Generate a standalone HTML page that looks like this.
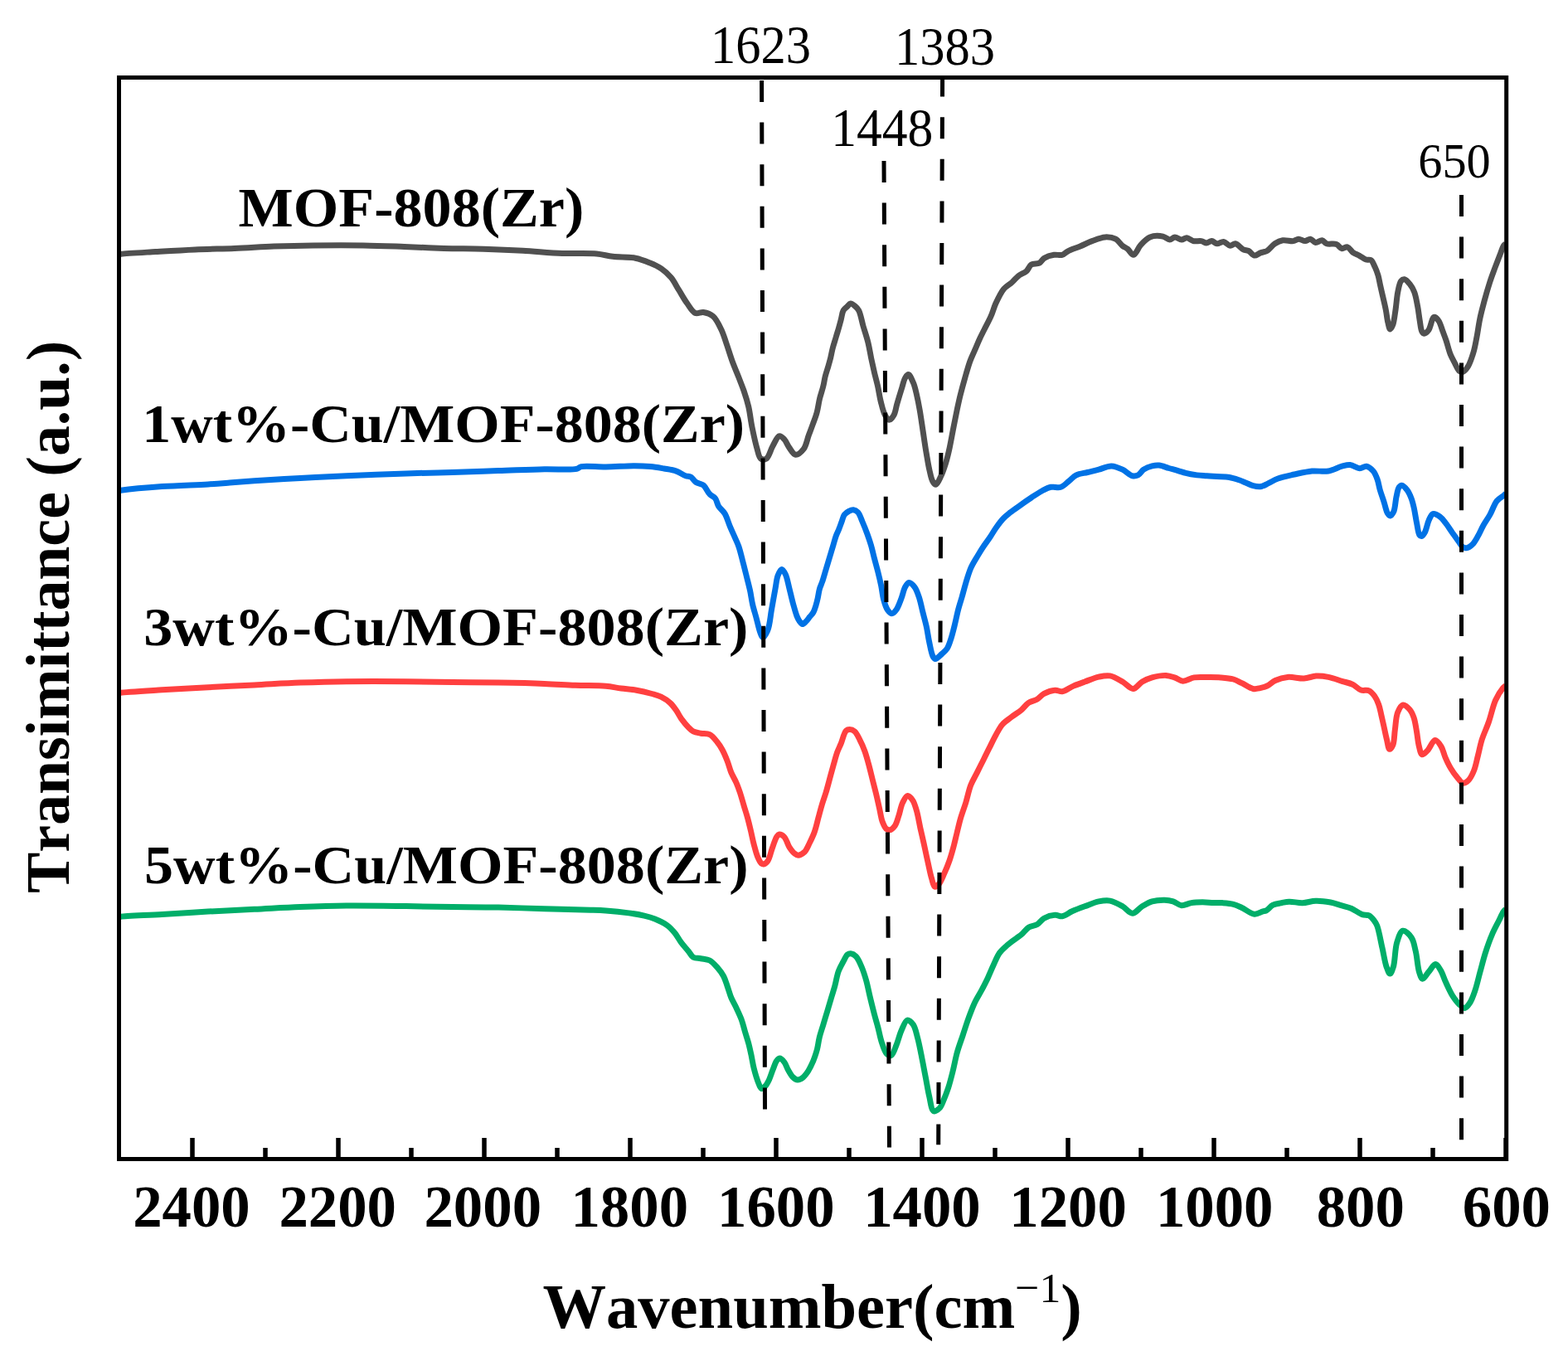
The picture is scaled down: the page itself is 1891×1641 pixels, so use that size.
<!DOCTYPE html>
<html><head><meta charset="utf-8"><title>FTIR spectra</title>
<style>
html,body{margin:0;padding:0;background:#fff;overflow:hidden;}
svg{display:block;}
text{font-family:"Liberation Serif","Times New Roman",serif;fill:#000;font-kerning:none;}
.b{font-weight:bold;}
.tk{font-weight:bold;font-size:68px;}
.pk{font-size:62px;}
.ser{font-weight:bold;font-size:68px;}
</style></head>
<body>
<svg width="1891" height="1641" viewBox="0 0 1891 1641">
<rect width="1891" height="1641" fill="#fff"/>
<path d="M144.0,306.5 C144.8,306.4 145.1,306.3 146.3,306.2 C151.6,305.7 173.3,304.4 187.6,303.5 C202.9,302.6 219.3,301.6 235.2,300.9 C251.1,300.2 266.9,300.0 282.8,299.4 C298.7,298.8 314.5,297.7 330.4,297.1 C346.3,296.5 361.2,296.1 378.0,295.9 C396.9,295.7 419.2,295.6 438.3,295.9 C455.6,296.2 471.3,296.9 487.6,297.5 C503.6,298.1 519.3,298.9 535.2,299.4 C551.1,299.9 566.9,299.8 582.8,300.3 C598.7,300.8 614.5,301.4 630.4,302.2 C646.3,303.1 662.7,304.8 678.0,305.4 C692.3,306.0 708.3,305.0 719.5,306.0 C727.2,306.7 731.9,308.5 739.0,309.3 C747.3,310.3 758.3,309.6 766.3,311.2 C772.9,312.5 778.5,314.8 783.9,317.0 C788.8,319.0 793.3,321.0 797.5,323.9 C801.8,326.8 805.7,330.4 809.2,334.6 C813.0,339.1 815.7,345.0 819.0,350.2 C822.2,355.4 825.3,361.1 828.7,365.8 C831.8,370.1 834.8,376.0 838.5,377.5 C841.5,378.7 844.9,376.0 848.2,376.5 C852.0,377.1 856.6,378.5 860.0,381.4 C864.0,384.8 867.1,391.7 869.7,397.0 C872.2,402.1 873.5,406.9 875.5,412.6 C878.0,419.6 880.6,428.6 883.3,436.0 C885.8,442.8 888.7,449.4 891.1,455.5 C893.2,461.0 895.1,465.5 897.0,471.0 C899.1,477.1 901.2,483.7 902.8,490.6 C904.5,498.0 905.2,506.1 906.8,514.0 C908.5,522.3 910.5,532.3 912.6,539.4 C914.2,544.7 914.9,551.2 917.5,553.0 C919.3,554.3 922.3,554.2 924.3,553.0 C927.5,551.0 929.3,542.2 932.1,537.5 C934.6,533.2 937.2,526.3 939.9,525.8 C941.8,525.4 944.0,527.8 945.8,529.7 C948.0,532.0 949.4,536.3 951.6,539.4 C953.9,542.5 956.5,547.8 959.4,548.2 C962.3,548.6 966.6,544.7 969.2,541.4 C972.3,537.3 973.4,529.8 975.4,524.5 C977.1,519.9 978.7,515.9 980.3,511.4 C982.0,506.7 983.9,502.1 985.2,497.1 C986.6,491.9 987.2,486.1 988.5,480.7 C989.8,475.5 991.8,470.0 992.9,465.3 C993.9,461.3 994.2,458.1 995.1,454.3 C996.1,450.1 997.8,445.3 999.0,441.2 C1000.0,437.7 1000.8,434.8 1001.7,431.3 C1002.6,427.5 1003.3,423.3 1004.4,419.2 C1005.5,414.9 1007.1,410.3 1008.3,406.1 C1009.4,402.3 1010.6,398.7 1011.6,395.1 C1012.6,391.7 1013.4,388.6 1014.3,385.2 C1015.2,381.7 1015.6,377.0 1017.1,374.3 C1018.2,372.3 1020.0,371.3 1021.5,369.9 C1022.9,368.5 1024.2,366.2 1025.8,366.0 C1027.5,365.8 1029.7,367.9 1031.3,369.3 C1033.0,370.7 1034.4,371.9 1035.7,374.3 C1037.9,378.4 1039.2,386.8 1041.0,393.1 C1042.9,399.5 1045.2,406.1 1046.8,412.6 C1048.4,419.1 1049.4,425.8 1050.7,432.1 C1052.0,438.1 1053.3,444.0 1054.6,449.7 C1055.9,455.1 1057.3,459.8 1058.5,465.3 C1059.9,471.4 1060.8,478.7 1062.4,484.8 C1063.8,490.3 1065.2,496.6 1067.3,500.4 C1068.7,503.0 1070.5,506.2 1072.2,506.3 C1074.0,506.4 1076.5,503.0 1078.0,500.4 C1080.0,497.0 1080.4,491.7 1081.9,486.7 C1083.6,480.8 1086.0,472.9 1087.8,467.2 C1089.2,462.8 1090.0,458.2 1091.7,455.5 C1092.8,453.7 1094.3,451.4 1095.6,451.6 C1097.5,451.8 1099.8,457.8 1101.4,461.4 C1103.2,465.5 1104.1,470.0 1105.3,475.0 C1106.7,480.9 1108.0,487.6 1109.2,494.5 C1110.6,502.4 1111.8,511.4 1113.1,519.9 C1114.4,528.4 1115.6,537.2 1117.0,545.3 C1118.3,552.7 1119.4,560.4 1120.9,566.7 C1122.1,571.8 1123.0,577.4 1124.8,580.4 C1125.9,582.3 1127.4,584.5 1128.7,584.3 C1130.6,584.1 1132.8,578.2 1134.6,574.5 C1136.8,570.0 1138.7,564.4 1140.4,558.9 C1142.3,552.8 1143.8,546.4 1145.3,539.4 C1147.0,531.5 1148.6,521.9 1150.2,514.0 C1151.6,507.1 1152.8,500.8 1154.1,494.5 C1155.4,488.5 1156.5,483.1 1158.0,477.0 C1159.7,470.2 1161.8,462.5 1163.8,455.5 C1165.7,448.8 1167.6,441.9 1169.7,436.0 C1171.5,431.0 1173.6,426.9 1175.5,422.4 C1177.5,417.8 1179.4,413.1 1181.4,408.7 C1183.3,404.6 1185.1,401.2 1187.2,397.0 C1189.6,392.2 1192.7,386.7 1195.0,381.4 C1197.3,376.3 1198.5,371.1 1200.9,365.8 C1203.6,360.0 1207.0,352.7 1210.7,348.3 C1213.6,344.8 1217.4,343.2 1220.4,340.5 C1223.2,338.0 1225.3,335.0 1228.2,332.7 C1231.2,330.4 1235.3,329.2 1238.0,326.8 C1240.5,324.6 1241.2,320.6 1243.8,319.0 C1246.4,317.4 1250.9,318.5 1253.6,317.1 C1256.0,315.8 1256.9,312.8 1259.4,311.2 C1262.5,309.3 1267.3,307.9 1271.1,307.3 C1274.5,306.8 1278.0,308.1 1280.9,307.3 C1283.6,306.5 1285.1,304.3 1288.0,302.8 C1291.9,300.8 1297.9,299.0 1302.7,297.0 C1307.5,295.0 1312.1,292.4 1317.0,290.6 C1322.1,288.7 1327.8,286.2 1332.8,285.9 C1337.2,285.7 1342.0,286.4 1345.5,288.2 C1348.8,289.9 1350.9,294.1 1353.5,296.2 C1355.6,297.9 1357.7,298.5 1359.8,300.1 C1362.2,302.0 1364.6,307.5 1367.0,307.3 C1369.9,307.1 1372.4,299.0 1375.7,295.4 C1379.0,291.8 1382.4,287.6 1386.8,285.9 C1391.3,284.1 1398.3,284.2 1402.6,285.1 C1405.8,285.8 1408.1,289.0 1410.6,289.0 C1412.8,289.0 1414.7,286.0 1416.9,285.9 C1419.4,285.8 1422.4,289.0 1424.9,289.0 C1427.1,289.0 1429.0,286.6 1431.2,286.7 C1433.7,286.8 1436.3,289.9 1439.1,290.6 C1442.1,291.3 1445.9,290.1 1448.7,290.6 C1451.1,291.0 1452.9,293.0 1455.0,293.0 C1457.1,293.0 1459.2,290.5 1461.3,290.6 C1463.4,290.7 1465.4,293.6 1467.7,293.8 C1470.2,294.0 1473.0,291.1 1475.6,291.4 C1478.3,291.7 1481.0,296.0 1483.6,296.2 C1485.8,296.4 1487.7,293.5 1489.9,293.8 C1492.8,294.2 1496.4,299.5 1499.4,300.9 C1501.6,302.0 1503.7,301.5 1505.8,302.5 C1508.2,303.7 1510.4,307.8 1512.9,308.1 C1515.2,308.4 1517.5,305.8 1520.0,304.9 C1522.6,303.9 1525.4,304.0 1528.0,302.5 C1531.2,300.7 1534.1,296.0 1537.5,293.8 C1540.5,291.9 1543.5,290.4 1547.0,289.8 C1550.9,289.1 1556.2,291.1 1559.7,290.6 C1562.2,290.2 1563.8,288.3 1566.0,288.2 C1568.5,288.1 1571.5,290.7 1574.0,290.6 C1576.2,290.5 1578.3,288.0 1580.3,288.2 C1582.5,288.5 1584.3,292.2 1586.6,292.5 C1589.0,292.8 1592.2,289.4 1594.5,289.8 C1596.5,290.1 1597.5,293.0 1599.8,293.8 C1602.9,294.9 1608.5,293.3 1611.7,294.5 C1614.4,295.5 1616.0,299.2 1618.3,299.7 C1620.4,300.1 1622.9,297.3 1625.0,297.8 C1627.4,298.4 1629.1,302.6 1631.6,304.4 C1634.0,306.1 1636.9,306.9 1639.5,308.3 C1642.2,309.7 1644.9,312.2 1647.4,313.0 C1649.5,313.7 1651.7,312.5 1653.4,313.6 C1655.5,314.9 1656.6,318.7 1658.0,321.6 C1659.5,324.8 1660.9,328.4 1662.0,332.1 C1663.1,335.9 1663.7,340.0 1664.6,344.0 C1665.5,348.0 1666.3,351.6 1667.3,355.9 C1668.5,361.1 1670.1,367.5 1671.2,373.1 C1672.3,378.5 1672.8,384.7 1673.9,389.0 C1674.7,392.1 1675.4,396.8 1676.5,396.9 C1677.4,397.0 1678.9,394.0 1679.8,391.6 C1681.4,387.4 1682.1,379.5 1683.1,373.1 C1684.1,366.3 1684.5,358.2 1685.8,352.0 C1686.8,347.0 1687.7,341.0 1689.7,338.7 C1690.8,337.4 1692.3,336.6 1693.7,336.8 C1695.7,337.1 1698.4,340.3 1700.3,342.7 C1702.4,345.3 1704.2,348.3 1705.6,352.0 C1707.5,356.7 1708.5,363.5 1709.6,369.2 C1710.7,374.9 1711.3,381.0 1712.2,386.3 C1713.0,391.0 1713.4,397.0 1714.8,399.6 C1715.5,401.0 1716.4,402.1 1717.5,402.2 C1718.9,402.3 1721.2,400.3 1722.8,398.2 C1725.4,394.9 1726.8,383.1 1729.4,382.4 C1731.0,382.0 1733.2,384.3 1734.7,386.3 C1737.0,389.2 1738.4,395.4 1740.0,399.6 C1741.4,403.3 1742.6,406.1 1743.9,410.1 C1745.6,415.1 1747.2,422.3 1749.2,427.3 C1750.8,431.3 1752.7,434.5 1754.5,437.9 C1756.2,441.1 1757.8,445.6 1759.8,447.2 C1761.0,448.2 1762.4,448.8 1763.8,448.5 C1765.9,448.0 1768.5,444.9 1770.4,441.9 C1773.1,437.7 1775.2,430.6 1777.0,424.7 C1778.8,418.7 1779.7,412.7 1781.0,406.2 C1782.4,399.1 1783.3,391.1 1784.9,383.7 C1786.4,376.5 1788.3,369.7 1790.2,362.5 C1792.2,355.1 1794.5,347.1 1796.8,340.0 C1798.9,333.5 1801.2,327.6 1803.4,321.6 C1805.6,315.8 1808.2,309.0 1810.0,304.4 C1811.3,301.2 1812.1,298.3 1813.3,296.4 C1814.1,295.1 1815.1,294.5 1816.0,293.5" fill="none" stroke="#505050" stroke-width="7" stroke-linejoin="round" stroke-linecap="butt"/>
<path d="M144.0,591.6 C144.5,591.5 144.7,591.4 145.6,591.3 C150.6,590.6 178.4,587.8 195.5,586.6 C213.5,585.3 236.0,584.8 251.0,583.9 C261.3,583.3 268.1,582.7 277.0,582.0 C286.5,581.3 295.2,580.6 306.6,579.8 C322.2,578.8 343.6,577.5 362.1,576.5 C380.6,575.5 397.9,574.6 417.6,573.7 C440.1,572.7 467.3,571.6 489.8,570.9 C509.6,570.3 527.0,570.0 545.5,569.4 C564.0,568.9 582.5,568.2 601.0,567.6 C619.5,567.0 639.7,566.1 656.6,565.7 C670.7,565.4 688.4,567.1 695.4,565.4 C698.2,564.7 698.3,563.2 701.0,562.6 C706.9,561.3 720.3,563.1 730.6,563.0 C741.8,562.9 755.9,561.6 765.8,561.7 C773.0,561.7 778.3,562.0 784.3,562.6 C790.0,563.1 795.5,564.1 800.9,565.0 C806.0,565.9 811.2,566.5 815.7,568.1 C819.8,569.5 823.6,572.6 826.8,573.7 C829.1,574.5 831.1,573.9 833.0,575.0 C835.3,576.3 837.0,579.8 839.5,581.5 C842.1,583.2 845.7,583.1 848.3,585.1 C851.3,587.5 853.2,593.0 855.9,595.8 C858.1,598.1 860.9,598.8 862.7,601.1 C864.6,603.6 864.8,607.4 866.6,610.3 C868.6,613.5 872.0,615.8 874.2,619.4 C876.7,623.7 878.2,629.7 880.3,634.6 C882.3,639.3 884.5,644.0 886.4,648.3 C888.0,652.1 889.5,655.0 890.9,659.0 C892.6,663.9 894.0,670.1 895.5,675.8 C897.1,681.7 898.6,687.9 900.1,694.0 C901.6,700.1 903.3,706.3 904.6,712.3 C905.8,718.0 906.4,723.5 907.7,729.1 C909.0,734.7 910.8,740.2 912.3,745.8 C913.8,751.4 915.2,758.4 916.8,762.6 C917.8,765.2 918.6,768.6 919.9,768.7 C921.5,768.8 924.4,763.5 926.0,759.5 C928.4,753.5 929.0,743.4 930.5,735.2 C932.0,726.7 933.7,716.8 935.1,709.3 C936.2,703.5 936.5,698.1 938.1,694.0 C939.3,690.9 941.1,686.5 942.7,686.4 C944.2,686.3 946.0,689.8 947.3,692.5 C949.3,696.6 950.4,703.6 951.9,709.3 C953.4,715.3 954.8,721.8 956.4,727.6 C957.9,732.9 959.4,738.9 961.0,742.8 C962.1,745.5 963.1,747.6 964.4,749.3 C965.4,750.7 966.5,752.5 967.7,752.6 C969.0,752.7 970.7,750.6 972.1,749.3 C973.7,747.8 975.0,745.6 976.5,743.8 C978.0,742.0 979.7,740.5 980.9,738.3 C982.3,735.8 983.2,732.5 984.1,729.5 C985.0,726.6 985.6,723.8 986.3,720.7 C987.1,717.2 987.5,713.1 988.5,709.7 C989.4,706.6 990.8,704.1 991.8,701.0 C993.0,697.6 994.0,693.7 995.1,690.0 C996.2,686.3 997.3,682.7 998.4,679.0 C999.5,675.3 1000.6,671.7 1001.7,668.0 C1002.8,664.3 1003.9,660.7 1005.0,657.0 C1006.1,653.3 1007.1,649.3 1008.3,646.0 C1009.3,643.2 1010.5,641.0 1011.6,638.4 C1012.7,635.6 1013.8,632.5 1014.9,629.6 C1016.0,626.7 1016.6,623.1 1018.2,620.8 C1019.6,618.8 1021.8,617.4 1023.7,616.4 C1025.4,615.5 1027.4,614.6 1029.2,614.8 C1031.0,615.0 1033.0,616.0 1034.6,617.6 C1036.8,619.9 1038.1,624.5 1039.8,628.5 C1041.8,633.1 1044.1,638.8 1045.9,643.8 C1047.6,648.5 1049.1,652.8 1050.5,657.5 C1051.9,662.4 1053.0,667.5 1054.3,672.7 C1055.7,678.2 1057.4,683.9 1058.8,689.5 C1060.2,695.1 1061.5,700.6 1062.7,706.2 C1063.8,711.8 1064.3,717.9 1065.7,723.0 C1066.9,727.5 1068.3,732.3 1070.3,735.2 C1071.8,737.3 1073.8,739.7 1075.6,739.7 C1077.4,739.7 1079.3,737.4 1080.9,735.2 C1083.3,732.0 1085.2,726.1 1087.0,721.5 C1088.8,717.0 1089.7,711.2 1091.6,707.8 C1092.9,705.4 1094.4,702.6 1096.2,702.4 C1098.2,702.2 1101.1,705.3 1103.0,707.8 C1105.3,710.8 1106.8,715.4 1108.3,719.9 C1110.1,725.3 1111.4,732.1 1112.9,738.2 C1114.4,744.3 1116.2,750.5 1117.5,756.5 C1118.7,762.2 1119.3,767.6 1120.5,773.3 C1121.8,779.3 1123.2,788.1 1125.1,791.5 C1126.0,793.1 1126.8,794.5 1128.1,794.6 C1130.0,794.7 1133.4,790.6 1135.8,788.5 C1138.0,786.5 1140.2,784.9 1141.9,782.4 C1143.9,779.5 1145.0,775.7 1146.4,771.7 C1148.1,766.8 1149.5,760.8 1151.0,755.0 C1152.6,748.7 1154.0,741.4 1155.6,735.2 C1157.0,729.7 1158.6,725.1 1160.1,719.9 C1161.6,714.5 1163.0,708.9 1164.7,703.2 C1166.5,697.2 1168.4,690.5 1170.8,684.9 C1173.0,679.9 1175.8,675.6 1178.4,671.2 C1180.9,667.0 1183.4,662.9 1186.0,659.0 C1188.5,655.3 1191.1,652.0 1193.6,648.3 C1196.2,644.4 1198.5,640.1 1201.3,636.2 C1204.1,632.2 1207.3,627.9 1210.4,624.7 C1213.0,622.0 1215.5,620.2 1218.5,617.8 C1222.0,615.0 1226.2,612.2 1230.3,609.3 C1234.6,606.2 1239.3,603.0 1243.8,600.0 C1248.3,597.1 1253.1,593.7 1257.4,591.5 C1260.9,589.7 1263.9,588.0 1267.5,587.3 C1271.2,586.6 1275.8,588.5 1279.4,587.3 C1283.1,586.1 1286.3,582.2 1289.5,579.7 C1292.5,577.4 1294.6,574.6 1298.0,572.9 C1301.8,571.0 1307.0,570.6 1311.5,569.5 C1316.0,568.4 1320.5,567.4 1325.1,566.2 C1330.0,564.9 1335.4,561.8 1340.3,561.9 C1344.9,562.0 1349.6,564.2 1353.8,566.2 C1358.0,568.2 1362.2,573.0 1365.7,573.8 C1368.2,574.3 1370.4,573.9 1372.5,572.9 C1375.0,571.7 1376.5,568.0 1379.2,566.2 C1382.1,564.3 1386.1,562.7 1389.4,561.9 C1392.3,561.2 1394.8,560.8 1397.8,561.1 C1401.5,561.4 1405.7,563.4 1409.7,564.5 C1413.6,565.6 1417.9,566.7 1421.5,567.8 C1424.6,568.7 1426.8,569.6 1430.0,570.4 C1434.0,571.4 1439.1,572.3 1443.5,572.9 C1447.6,573.4 1451.4,573.5 1455.4,573.8 C1459.3,574.1 1463.0,574.3 1467.2,574.6 C1472.0,574.9 1477.8,574.7 1482.5,575.5 C1486.7,576.2 1490.7,577.6 1494.3,578.8 C1497.4,579.8 1500.0,581.1 1502.8,582.2 C1505.6,583.3 1508.2,584.9 1511.2,585.6 C1514.4,586.4 1518.2,587.0 1521.4,586.5 C1524.4,586.0 1526.8,584.1 1529.8,582.7 C1533.3,581.0 1536.9,578.6 1541.3,577.0 C1546.9,574.9 1554.3,573.5 1561.0,572.0 C1567.9,570.5 1575.3,568.7 1582.3,568.0 C1589.0,567.4 1595.8,569.1 1602.0,568.0 C1607.8,567.0 1613.6,563.4 1618.4,562.2 C1622.0,561.3 1624.8,560.3 1628.2,560.6 C1631.9,560.9 1636.2,564.6 1639.7,564.7 C1642.7,564.8 1645.3,561.8 1647.9,562.2 C1650.8,562.7 1653.9,565.5 1656.1,568.0 C1658.4,570.6 1659.7,574.2 1661.0,577.8 C1662.5,581.8 1663.0,586.4 1664.3,590.9 C1665.7,595.7 1667.7,600.9 1669.2,605.7 C1670.6,610.2 1671.6,616.0 1673.3,618.8 C1674.3,620.4 1675.5,622.1 1676.6,622.0 C1677.9,621.9 1679.6,619.4 1680.7,617.1 C1682.6,613.1 1682.8,604.4 1684.0,599.1 C1685.0,594.8 1685.6,589.9 1687.2,587.6 C1688.1,586.3 1689.2,585.1 1690.5,585.2 C1692.3,585.3 1695.2,588.5 1697.0,590.9 C1699.1,593.6 1700.6,597.2 1702.0,600.7 C1703.4,604.3 1704.2,607.9 1705.2,612.2 C1706.4,617.5 1707.3,624.5 1708.5,630.2 C1709.6,635.4 1710.2,642.7 1711.8,645.0 C1712.5,646.0 1713.4,646.7 1714.3,646.6 C1715.6,646.4 1717.2,643.9 1718.4,641.7 C1720.3,638.2 1721.4,631.0 1723.3,627.0 C1724.8,624.0 1726.0,620.3 1728.2,619.6 C1730.4,618.9 1734.0,621.2 1736.4,622.9 C1739.0,624.7 1740.8,627.4 1743.0,630.2 C1745.7,633.5 1748.4,637.9 1751.1,641.7 C1753.8,645.5 1756.9,649.9 1759.3,653.2 C1761.2,655.7 1762.4,658.6 1764.3,659.8 C1765.8,660.7 1767.5,660.9 1769.2,660.6 C1771.3,660.2 1773.7,658.4 1775.7,656.5 C1778.2,654.1 1780.2,650.2 1782.3,646.6 C1784.6,642.6 1786.5,637.8 1788.9,633.5 C1791.4,629.1 1794.4,625.1 1797.0,620.4 C1799.8,615.3 1802.0,608.0 1805.2,604.0 C1807.6,601.0 1811.5,599.2 1813.4,597.5 C1814.5,596.5 1815.1,595.8 1816.0,595.0" fill="none" stroke="#0072e5" stroke-width="7" stroke-linejoin="round" stroke-linecap="butt"/>
<path d="M144.0,835.5 C144.5,835.4 144.7,835.3 145.6,835.2 C150.6,834.6 178.4,832.9 195.5,831.8 C213.5,830.7 232.5,829.7 251.0,828.7 C269.5,827.7 288.1,826.8 306.6,825.9 C325.1,825.0 343.6,823.8 362.1,823.1 C380.6,822.4 397.9,821.9 417.6,821.7 C440.1,821.4 467.3,821.5 489.8,821.7 C509.6,821.9 526.9,822.4 545.5,822.6 C564.0,822.8 582.5,822.8 601.0,823.1 C619.5,823.4 640.0,823.8 656.6,824.4 C670.2,824.9 681.3,825.8 693.6,826.3 C705.9,826.8 720.4,826.3 730.6,827.2 C737.8,827.8 742.9,829.2 749.1,830.0 C755.3,830.8 761.5,831.1 767.6,832.2 C773.8,833.3 780.7,835.0 786.1,836.5 C790.3,837.7 793.6,838.4 797.2,840.2 C801.0,842.1 805.2,844.7 808.3,847.6 C811.3,850.3 813.5,853.6 815.7,856.8 C817.8,859.8 819.1,862.9 821.3,866.1 C823.9,869.7 827.7,874.4 830.5,877.2 C832.5,879.2 833.9,880.8 836.1,881.9 C838.6,883.2 842.0,883.6 845.2,884.2 C848.6,884.9 852.7,884.1 855.9,885.7 C859.4,887.4 862.4,891.6 865.0,894.8 C867.4,897.7 869.2,900.5 871.1,904.0 C873.3,908.0 875.4,913.1 877.2,917.7 C879.0,922.2 880.0,927.0 881.8,931.4 C883.6,935.6 886.1,939.5 887.9,943.6 C889.7,947.6 891.0,951.5 892.5,955.8 C894.1,960.6 895.5,965.9 897.0,971.0 C898.5,976.1 900.2,981.1 901.6,986.2 C903.0,991.3 904.2,996.3 905.4,1001.5 C906.7,1006.9 907.8,1012.8 909.2,1018.2 C910.6,1023.4 912.0,1029.3 913.8,1033.4 C915.1,1036.5 916.7,1039.9 918.3,1041.1 C919.3,1041.8 920.3,1042.1 921.4,1041.8 C922.9,1041.5 924.6,1040.0 926.0,1038.0 C928.2,1034.8 929.5,1027.7 931.3,1022.8 C933.0,1018.1 934.8,1011.9 936.6,1009.1 C937.6,1007.6 938.4,1006.2 939.7,1006.0 C941.3,1005.7 944.0,1007.3 945.8,1009.1 C948.3,1011.6 949.7,1017.8 951.9,1021.3 C953.8,1024.2 955.9,1027.2 958.0,1028.9 C959.5,1030.1 960.8,1031.2 962.5,1031.2 C964.7,1031.2 967.9,1029.4 970.1,1027.4 C972.7,1024.9 974.3,1020.5 976.2,1016.7 C978.3,1012.5 980.6,1007.9 982.3,1003.0 C984.2,997.8 985.4,991.8 986.9,986.2 C988.4,980.6 989.9,974.8 991.5,969.5 C993.0,964.7 994.5,960.6 996.0,955.8 C997.6,950.5 999.1,944.6 1000.6,939.0 C1002.1,933.4 1003.7,927.7 1005.2,922.3 C1006.7,917.1 1008.0,911.6 1009.7,907.0 C1011.1,903.1 1012.7,900.3 1014.3,896.4 C1016.2,891.8 1017.9,883.5 1020.4,881.1 C1021.7,879.9 1023.1,879.6 1024.6,879.6 C1026.4,879.6 1028.9,880.4 1030.7,881.9 C1033.1,883.9 1034.9,888.2 1036.8,891.8 C1039.0,895.9 1041.1,900.8 1042.8,905.5 C1044.6,910.4 1045.9,915.4 1047.4,920.7 C1049.0,926.5 1050.5,932.9 1052.0,939.0 C1053.5,945.1 1055.2,951.3 1056.6,957.3 C1058.0,963.0 1059.1,968.4 1060.4,974.0 C1061.7,979.6 1062.5,986.3 1064.2,990.8 C1065.5,994.2 1066.8,997.6 1068.7,999.2 C1070.0,1000.3 1071.7,1001.0 1073.3,1000.7 C1075.3,1000.3 1077.7,997.8 1079.4,995.4 C1081.5,992.4 1082.5,987.5 1084.0,983.2 C1085.6,978.4 1086.4,972.2 1088.5,968.0 C1090.2,964.6 1092.4,959.8 1094.6,959.6 C1096.5,959.4 1099.0,962.5 1100.7,964.9 C1102.8,967.9 1103.9,972.4 1105.3,977.1 C1107.1,983.2 1108.4,991.4 1109.9,998.4 C1111.4,1005.1 1112.9,1011.5 1114.4,1018.2 C1115.9,1025.2 1117.4,1032.5 1119.0,1039.5 C1120.5,1046.2 1121.9,1053.9 1123.6,1059.3 C1124.8,1063.2 1125.6,1068.7 1127.4,1069.2 C1128.8,1069.6 1131.1,1067.3 1132.7,1065.4 C1135.0,1062.7 1136.9,1057.5 1138.8,1053.2 C1140.9,1048.5 1143.1,1043.1 1144.9,1038.0 C1146.7,1033.0 1148.0,1028.1 1149.5,1022.8 C1151.1,1017.0 1152.5,1010.6 1154.0,1004.5 C1155.5,998.4 1156.8,992.3 1158.6,986.2 C1160.4,980.1 1162.7,974.3 1164.7,968.0 C1166.8,961.2 1168.3,953.0 1170.8,946.6 C1173.0,941.0 1175.9,936.5 1178.4,931.4 C1180.9,926.3 1183.5,921.3 1186.0,916.2 C1188.5,911.1 1191.0,906.0 1193.6,900.9 C1196.1,895.8 1198.6,890.4 1201.3,885.7 C1203.7,881.4 1205.8,877.1 1208.9,873.5 C1212.1,869.9 1216.3,867.3 1220.2,864.3 C1224.0,861.4 1228.5,858.8 1232.0,855.8 C1235.2,853.1 1237.3,849.5 1240.5,847.4 C1243.5,845.4 1247.5,845.0 1250.6,843.2 C1253.7,841.4 1255.7,838.2 1259.1,836.4 C1262.9,834.4 1268.6,832.4 1272.6,832.2 C1275.7,832.0 1278.0,834.2 1281.1,833.8 C1285.2,833.2 1290.0,829.1 1294.6,827.1 C1299.1,825.2 1303.4,823.7 1308.2,822.0 C1313.5,820.1 1319.7,817.3 1325.1,816.1 C1329.8,815.1 1334.1,814.1 1338.6,814.9 C1343.6,815.8 1349.1,819.3 1353.8,822.0 C1358.3,824.6 1362.5,830.6 1366.5,830.5 C1370.3,830.4 1373.6,824.3 1377.5,822.0 C1381.3,819.8 1385.0,818.1 1389.4,816.9 C1394.5,815.5 1401.4,814.2 1406.3,814.4 C1410.1,814.6 1413.2,815.8 1416.5,816.9 C1419.9,818.0 1422.9,821.0 1426.6,821.2 C1430.8,821.4 1435.5,817.7 1440.2,816.9 C1445.1,816.1 1450.2,816.6 1455.4,816.6 C1460.9,816.6 1466.8,816.5 1472.3,816.9 C1477.5,817.3 1483.0,817.7 1487.5,819.0 C1491.3,820.1 1494.1,822.0 1497.7,823.7 C1501.9,825.7 1507.1,829.8 1511.2,830.5 C1514.3,831.1 1516.9,830.2 1519.7,829.6 C1522.6,829.0 1525.4,828.3 1528.2,827.0 C1531.5,825.5 1534.2,822.2 1538.0,820.5 C1542.3,818.5 1547.5,816.9 1552.8,816.4 C1558.9,815.8 1566.4,818.3 1572.5,818.0 C1577.8,817.7 1582.3,815.4 1587.2,815.1 C1592.1,814.8 1597.0,815.4 1602.0,816.4 C1607.4,817.4 1613.2,819.7 1618.4,821.3 C1623.0,822.7 1627.6,823.5 1631.5,825.4 C1635.1,827.2 1637.9,830.8 1641.3,832.0 C1644.4,833.1 1648.3,831.5 1651.1,832.8 C1653.8,834.0 1655.8,836.7 1657.7,839.3 C1659.7,842.1 1661.3,845.6 1662.6,849.2 C1664.1,853.2 1664.8,857.8 1665.9,862.3 C1667.0,867.1 1668.1,872.1 1669.2,877.0 C1670.3,881.9 1671.3,887.2 1672.5,891.8 C1673.5,895.9 1674.2,903.0 1675.7,903.3 C1676.8,903.5 1678.8,900.8 1679.8,898.4 C1681.6,894.4 1681.4,886.6 1682.3,880.3 C1683.3,873.5 1683.4,864.4 1685.6,859.0 C1687.2,855.1 1689.6,850.4 1692.1,850.0 C1694.5,849.6 1698.1,853.2 1700.3,855.7 C1702.6,858.3 1703.9,861.8 1705.2,865.6 C1706.8,870.3 1707.5,876.5 1708.5,882.0 C1709.5,887.5 1709.8,893.5 1711.0,898.4 C1712.1,902.6 1713.0,909.2 1715.1,909.8 C1716.8,910.3 1719.4,907.1 1721.6,904.9 C1724.6,901.9 1727.7,892.8 1730.7,892.6 C1733.2,892.4 1736.0,896.9 1738.0,900.0 C1740.3,903.6 1741.1,908.8 1743.0,913.1 C1744.9,917.5 1747.0,922.1 1749.5,926.2 C1751.9,930.3 1755.0,934.5 1757.7,937.7 C1759.9,940.3 1762.0,943.9 1764.3,944.3 C1766.4,944.6 1768.9,942.8 1770.8,941.0 C1773.4,938.5 1775.6,933.9 1777.4,929.5 C1779.6,924.3 1780.7,917.6 1782.3,911.5 C1784.0,905.1 1785.1,898.4 1787.2,891.8 C1789.4,884.8 1792.8,878.0 1795.4,870.5 C1798.3,862.3 1800.3,851.6 1803.6,844.3 C1806.2,838.5 1810.1,832.5 1812.6,829.5 C1813.9,828.0 1814.9,827.5 1816.0,826.5" fill="none" stroke="#ff4040" stroke-width="7" stroke-linejoin="round" stroke-linecap="butt"/>
<path d="M144.0,1105.5 C144.5,1105.4 144.7,1105.3 145.6,1105.2 C150.6,1104.6 178.4,1103.4 195.5,1102.4 C213.5,1101.4 232.5,1100.1 251.0,1099.1 C269.5,1098.1 288.1,1097.2 306.6,1096.3 C325.1,1095.4 343.6,1094.2 362.1,1093.5 C380.6,1092.8 397.9,1092.2 417.6,1092.0 C440.1,1091.8 467.3,1092.3 489.8,1092.6 C509.6,1092.8 526.9,1093.2 545.5,1093.5 C564.0,1093.7 582.5,1093.7 601.0,1094.1 C619.5,1094.5 638.1,1095.2 656.6,1095.7 C675.1,1096.2 698.6,1096.7 712.1,1097.2 C719.9,1097.5 723.8,1097.6 730.6,1098.1 C738.9,1098.7 750.1,1099.8 758.4,1100.9 C765.2,1101.8 771.3,1102.8 776.9,1104.1 C781.6,1105.2 785.4,1106.2 789.8,1108.0 C794.7,1110.0 800.4,1112.6 804.6,1115.7 C808.3,1118.4 811.1,1121.6 813.9,1125.0 C816.7,1128.4 818.6,1132.5 821.3,1136.1 C824.1,1139.9 827.8,1143.9 830.5,1147.2 C832.6,1149.8 833.7,1152.8 836.1,1154.2 C838.6,1155.6 842.1,1155.1 845.2,1155.7 C848.6,1156.4 852.7,1156.3 855.9,1158.0 C859.3,1159.8 862.2,1163.3 865.0,1166.4 C867.8,1169.6 870.6,1173.2 872.6,1177.0 C874.6,1180.8 875.7,1185.0 877.2,1189.2 C878.8,1193.6 880.0,1198.5 881.8,1202.9 C883.6,1207.1 885.9,1210.9 887.9,1215.1 C890.0,1219.5 892.2,1224.1 894.0,1228.8 C895.8,1233.7 897.0,1238.9 898.5,1244.0 C900.0,1249.1 901.8,1254.3 903.1,1259.3 C904.3,1264.0 905.2,1268.3 906.2,1273.0 C907.2,1277.9 907.9,1283.2 909.2,1288.2 C910.5,1293.3 912.1,1299.0 913.8,1303.4 C915.2,1306.9 916.5,1312.1 918.3,1312.6 C919.7,1313.0 921.5,1311.0 922.9,1309.5 C924.7,1307.7 926.1,1304.8 927.5,1301.9 C929.2,1298.4 930.5,1293.6 932.1,1289.7 C933.6,1286.0 934.8,1281.5 936.6,1279.1 C937.8,1277.6 939.0,1276.0 940.4,1276.0 C942.0,1276.0 944.2,1278.6 945.8,1280.6 C947.7,1283.0 948.6,1286.7 950.3,1289.7 C952.1,1292.8 954.2,1296.8 956.4,1298.9 C958.1,1300.5 959.9,1301.8 961.8,1301.9 C963.9,1302.0 966.6,1300.5 968.6,1298.9 C970.9,1297.1 972.8,1294.2 974.7,1291.3 C976.9,1287.8 979.0,1283.3 980.8,1279.1 C982.6,1274.7 984.1,1270.1 985.4,1265.4 C986.7,1260.5 987.1,1255.2 988.4,1250.1 C989.7,1245.0 991.5,1240.0 993.0,1234.9 C994.5,1229.8 996.1,1224.8 997.6,1219.7 C999.1,1214.6 1000.6,1209.5 1002.1,1204.4 C1003.6,1199.3 1005.2,1194.5 1006.7,1189.2 C1008.3,1183.4 1009.3,1176.3 1011.3,1170.9 C1013.0,1166.3 1015.5,1162.3 1017.4,1158.7 C1019.0,1155.8 1020.1,1152.5 1021.9,1151.1 C1023.2,1150.1 1024.7,1149.6 1026.2,1149.8 C1028.1,1150.0 1030.5,1151.4 1032.4,1153.3 C1035.1,1156.1 1037.4,1161.8 1039.4,1166.5 C1041.5,1171.5 1043.1,1176.8 1044.7,1182.4 C1046.4,1188.5 1047.6,1195.3 1049.2,1201.9 C1050.9,1208.8 1052.8,1216.6 1054.5,1223.1 C1056.0,1228.8 1057.5,1233.6 1058.9,1239.0 C1060.4,1244.7 1061.4,1251.1 1063.3,1256.6 C1065.0,1261.7 1066.9,1268.4 1069.5,1270.8 C1071.1,1272.2 1073.2,1273.2 1074.8,1272.5 C1077.3,1271.5 1079.1,1264.7 1081.0,1260.2 C1083.2,1254.9 1084.7,1247.8 1087.1,1242.5 C1089.2,1237.9 1091.5,1230.7 1094.2,1230.1 C1096.3,1229.7 1099.4,1232.8 1101.3,1235.4 C1103.9,1239.0 1105.0,1245.4 1106.6,1251.3 C1108.6,1258.6 1110.3,1268.0 1111.9,1276.1 C1113.5,1283.9 1114.8,1291.4 1116.3,1299.0 C1117.8,1306.7 1119.0,1314.9 1120.7,1322.0 C1122.2,1328.3 1123.1,1338.5 1126.0,1339.7 C1127.9,1340.5 1131.1,1338.1 1133.1,1336.1 C1135.5,1333.7 1136.7,1329.3 1138.4,1325.5 C1140.3,1321.2 1142.0,1316.5 1143.7,1311.4 C1145.6,1305.5 1147.3,1298.8 1149.0,1292.0 C1150.8,1284.7 1152.2,1276.5 1154.3,1269.0 C1156.3,1261.7 1159.0,1254.9 1161.3,1247.8 C1163.7,1240.7 1165.9,1233.3 1168.4,1226.6 C1170.7,1220.4 1172.8,1214.6 1175.5,1208.9 C1178.1,1203.4 1181.6,1198.2 1184.3,1193.0 C1186.8,1188.2 1189.1,1183.8 1191.4,1178.9 C1193.8,1173.8 1196.0,1168.1 1198.4,1163.0 C1200.7,1158.1 1202.6,1152.9 1205.5,1148.9 C1208.0,1145.4 1211.6,1142.5 1214.3,1140.0 C1216.4,1138.1 1217.9,1137.0 1220.2,1135.2 C1223.4,1132.7 1228.5,1129.7 1232.0,1126.7 C1235.2,1124.0 1237.3,1120.2 1240.5,1118.2 C1243.5,1116.3 1247.5,1116.6 1250.6,1114.8 C1253.8,1113.0 1255.7,1109.1 1259.1,1107.2 C1262.9,1105.1 1268.6,1103.5 1272.6,1103.3 C1275.7,1103.1 1278.1,1105.2 1281.1,1104.7 C1284.8,1104.1 1288.7,1100.7 1292.9,1098.8 C1297.6,1096.7 1303.0,1094.7 1308.2,1092.8 C1313.7,1090.8 1319.7,1088.0 1325.1,1086.9 C1329.8,1086.0 1334.1,1085.3 1338.6,1086.1 C1343.6,1087.0 1349.2,1090.2 1353.8,1092.8 C1358.1,1095.3 1361.7,1101.3 1365.7,1101.3 C1369.6,1101.3 1373.5,1095.2 1377.5,1092.8 C1381.4,1090.5 1385.1,1088.2 1389.4,1086.9 C1394.0,1085.5 1400.0,1085.1 1404.6,1085.2 C1408.3,1085.3 1411.5,1085.9 1414.8,1086.9 C1418.3,1088.0 1421.3,1091.4 1424.9,1091.7 C1428.6,1092.1 1432.7,1089.3 1436.8,1088.6 C1441.1,1087.9 1445.8,1087.8 1450.3,1087.8 C1454.8,1087.8 1459.6,1088.5 1463.8,1088.6 C1467.4,1088.7 1470.4,1088.4 1474.0,1088.6 C1478.2,1088.9 1483.4,1089.2 1487.5,1090.3 C1491.2,1091.3 1494.0,1092.8 1497.7,1094.5 C1502.3,1096.6 1508.3,1101.9 1512.9,1102.2 C1516.6,1102.5 1520.5,1099.5 1523.1,1098.8 C1524.6,1098.4 1525.4,1098.7 1526.8,1098.0 C1529.2,1096.9 1532.1,1092.8 1535.2,1091.2 C1538.3,1089.7 1542.1,1089.4 1545.4,1088.7 C1548.6,1088.1 1551.2,1087.3 1554.7,1087.2 C1559.3,1087.0 1565.5,1088.9 1570.8,1088.7 C1576.2,1088.5 1581.3,1086.3 1586.8,1086.2 C1592.6,1086.0 1599.2,1087.0 1604.6,1088.0 C1609.2,1088.9 1613.1,1090.4 1617.3,1091.6 C1621.5,1092.9 1625.9,1093.7 1630.0,1095.5 C1634.3,1097.4 1638.8,1101.3 1642.7,1102.6 C1645.7,1103.6 1648.7,1102.7 1651.1,1103.9 C1653.5,1105.1 1655.4,1107.7 1657.0,1109.8 C1658.5,1111.8 1659.5,1113.1 1660.7,1116.0 C1663.0,1121.7 1665.0,1134.3 1667.0,1142.9 C1668.8,1150.8 1670.1,1160.1 1672.1,1165.7 C1673.4,1169.3 1674.9,1174.0 1676.3,1174.0 C1677.7,1174.0 1679.2,1169.4 1680.4,1165.7 C1682.5,1159.1 1682.2,1144.6 1684.6,1136.7 C1686.4,1130.9 1688.7,1122.9 1691.8,1122.2 C1694.7,1121.6 1699.7,1126.8 1702.2,1130.5 C1705.1,1134.7 1705.8,1140.9 1707.3,1147.0 C1709.1,1154.4 1709.6,1165.9 1711.5,1171.9 C1712.7,1175.5 1713.8,1180.0 1715.6,1180.2 C1717.5,1180.5 1720.4,1174.7 1722.9,1171.9 C1725.6,1168.9 1728.6,1162.6 1731.2,1162.6 C1733.4,1162.6 1735.5,1166.8 1737.4,1169.8 C1739.8,1173.7 1741.3,1179.3 1743.6,1184.3 C1746.1,1189.7 1748.9,1196.1 1751.9,1200.9 C1754.5,1204.9 1757.4,1208.8 1760.2,1211.3 C1762.3,1213.2 1764.4,1215.6 1766.4,1215.4 C1768.6,1215.2 1770.8,1211.9 1772.6,1209.2 C1775.1,1205.5 1776.9,1200.2 1778.8,1194.7 C1781.1,1188.0 1782.9,1179.5 1785.0,1171.9 C1787.1,1164.3 1788.9,1156.7 1791.3,1149.1 C1793.7,1141.5 1796.6,1133.2 1799.6,1126.3 C1802.2,1120.3 1805.4,1114.6 1807.8,1109.7 C1809.7,1105.9 1811.4,1101.8 1813.0,1099.4 C1814.0,1097.9 1815.0,1097.1 1816.0,1096.0" fill="none" stroke="#00ae69" stroke-width="7" stroke-linejoin="round" stroke-linecap="butt"/>
<line x1="918.6" y1="97" x2="922.5" y2="1337.5" stroke="#000" stroke-width="5" stroke-dasharray="26 24.6"/>
<line x1="1066" y1="194" x2="1072.5" y2="1383.5" stroke="#000" stroke-width="5" stroke-dasharray="26 24.6"/>
<line x1="1136.59" y1="93.5" x2="1131.7" y2="1380.3" stroke="#000" stroke-width="5" stroke-dasharray="26 24.6" stroke-dashoffset="2.9"/>
<line x1="1762.5" y1="235" x2="1762.5" y2="1375" stroke="#000" stroke-width="5" stroke-dasharray="26 24.6"/>
<line x1="232" y1="1397" x2="232" y2="1372" stroke="#000" stroke-width="5.5"/>
<line x1="408" y1="1397" x2="408" y2="1372" stroke="#000" stroke-width="5.5"/>
<line x1="584" y1="1397" x2="584" y2="1372" stroke="#000" stroke-width="5.5"/>
<line x1="760" y1="1397" x2="760" y2="1372" stroke="#000" stroke-width="5.5"/>
<line x1="936" y1="1397" x2="936" y2="1372" stroke="#000" stroke-width="5.5"/>
<line x1="1112" y1="1397" x2="1112" y2="1372" stroke="#000" stroke-width="5.5"/>
<line x1="1288" y1="1397" x2="1288" y2="1372" stroke="#000" stroke-width="5.5"/>
<line x1="1464" y1="1397" x2="1464" y2="1372" stroke="#000" stroke-width="5.5"/>
<line x1="1640" y1="1397" x2="1640" y2="1372" stroke="#000" stroke-width="5.5"/>
<line x1="1816" y1="1397" x2="1816" y2="1372" stroke="#000" stroke-width="5.5"/>
<line x1="320" y1="1397" x2="320" y2="1384" stroke="#000" stroke-width="5.5"/>
<line x1="496" y1="1397" x2="496" y2="1384" stroke="#000" stroke-width="5.5"/>
<line x1="672" y1="1397" x2="672" y2="1384" stroke="#000" stroke-width="5.5"/>
<line x1="848" y1="1397" x2="848" y2="1384" stroke="#000" stroke-width="5.5"/>
<line x1="1024" y1="1397" x2="1024" y2="1384" stroke="#000" stroke-width="5.5"/>
<line x1="1200" y1="1397" x2="1200" y2="1384" stroke="#000" stroke-width="5.5"/>
<line x1="1376" y1="1397" x2="1376" y2="1384" stroke="#000" stroke-width="5.5"/>
<line x1="1552" y1="1397" x2="1552" y2="1384" stroke="#000" stroke-width="5.5"/>
<line x1="1728" y1="1397" x2="1728" y2="1384" stroke="#000" stroke-width="5.5"/>
<rect x="143.5" y="93.5" width="1673.2" height="1304" fill="none" stroke="#000" stroke-width="5"/>
<text transform="matrix(1.0408,0,0,1.0659,160.18,1478.80)" style="font-weight:bold;font-size:68px">2400</text>
<text transform="matrix(1.0408,0,0,1.0659,336.38,1478.80)" style="font-weight:bold;font-size:68px">2200</text>
<text transform="matrix(1.0408,0,0,1.0659,511.48,1478.80)" style="font-weight:bold;font-size:68px">2000</text>
<text transform="matrix(1.0408,0,0,1.0659,688.49,1478.80)" style="font-weight:bold;font-size:68px">1800</text>
<text transform="matrix(1.0408,0,0,1.0659,865.09,1478.80)" style="font-weight:bold;font-size:68px">1600</text>
<text transform="matrix(1.0408,0,0,1.0659,1041.19,1478.80)" style="font-weight:bold;font-size:68px">1400</text>
<text transform="matrix(1.0408,0,0,1.0659,1217.29,1478.80)" style="font-weight:bold;font-size:68px">1200</text>
<text transform="matrix(1.0408,0,0,1.0659,1393.94,1478.80)" style="font-weight:bold;font-size:68px">1000</text>
<text transform="matrix(1.0408,0,0,1.0659,1587.64,1478.80)" style="font-weight:bold;font-size:68px">800</text>
<text transform="matrix(1.0408,0,0,1.0659,1763.79,1478.80)" style="font-weight:bold;font-size:68px">600</text>
<text transform="matrix(0.9752,0,0,1.0525,857.02,75.90)" style="font-size:62px">1623</text>
<text transform="matrix(0.9769,0,0,1.0525,1078.92,77.90)" style="font-size:62px">1383</text>
<text transform="matrix(0.9932,0,0,1.0650,1002.23,176.30)" style="font-size:62px">1448</text>
<text transform="matrix(0.9398,0,0,0.9425,1710.28,213.70)" style="font-size:62px">650</text>
<text transform="matrix(1.0315,0,0,0.9852,287.57,273.21)" style="font-weight:bold;font-size:68px">MOF-808(Zr)</text>
<text transform="matrix(1.0295,0,0,0.9770,171.15,533.12)" style="font-weight:bold;font-size:68px">1wt%-Cu/MOF-808(Zr)</text>
<text transform="matrix(1.0327,0,0,0.9770,173.20,778.12)" style="font-weight:bold;font-size:68px">3wt%-Cu/MOF-808(Zr)</text>
<text transform="matrix(1.0316,0,0,0.9672,174.01,1065.36)" style="font-weight:bold;font-size:68px">5wt%-Cu/MOF-808(Zr)</text>
<text transform="translate(83.42,1076.97) rotate(-90) scale(0.9716,0.9739)" style="font-weight:bold;font-size:76px">Transimittance (a.u.)</text>
<text transform="matrix(1.0349,0,0,1.0256,654.47,1600.62)" style="font-weight:bold;font-size:74px">Wavenumber(cm<tspan style="font-weight:normal;font-size:50px" dy="-30">&#8722;1</tspan><tspan dy="30">)</tspan></text>
</svg>
</body></html>
